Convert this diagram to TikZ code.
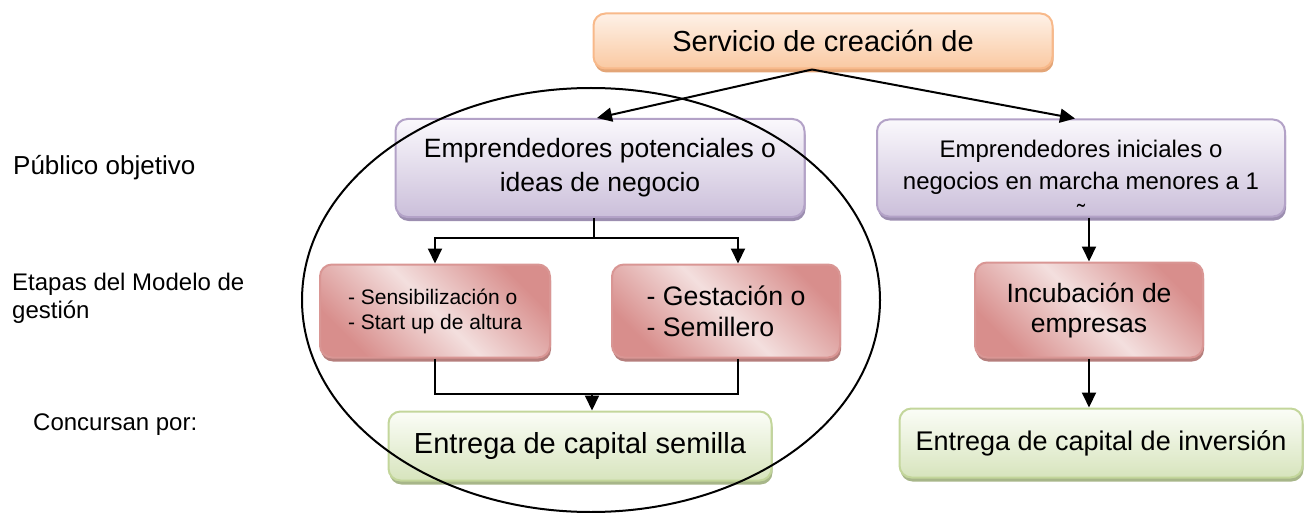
\documentclass[tikz,border=0pt]{standalone}
\usepackage{fontspec}
\setmainfont{Liberation Sans}
\usetikzlibrary{arrows.meta}
\usetikzlibrary{shadows}
\definecolor{orangeline}{HTML}{F8B98A}
\definecolor{orangetop}{HTML}{FEF1E7}
\definecolor{orangebot}{HTML}{FAC9A2}
\definecolor{orangeshadow}{HTML}{E3A577}
\definecolor{purpleline}{HTML}{B3A2C7}
\definecolor{purpletop}{HTML}{FAF8FC}
\definecolor{purplebot}{HTML}{CBBFDA}
\definecolor{purpleshadow}{HTML}{9C8EB0}
\definecolor{redline}{HTML}{D99694}
\definecolor{reddark}{HTML}{D88E8C}
\definecolor{redlight}{HTML}{F3DFDE}
\definecolor{redshadow}{HTML}{B57E7C}
\definecolor{greenline}{HTML}{C3D69B}
\definecolor{greentop}{HTML}{FBFDF7}
\definecolor{greenbot}{HTML}{D7E4BD}
\definecolor{greenshadow}{HTML}{A7B689}

\begin{document}
\begin{tikzpicture}[x=1pt,y=-1pt,
  fsize/.style 2 args={font=\fontsize{#1}{#2}\selectfont},
  box/.style={draw,line width=2pt,rounded corners=12pt,inner sep=0pt,align=center},
  orangebox/.style={box,draw=orangeline,top color=orangetop,bottom color=orangebot,
    drop shadow={shadow xshift=1pt,shadow yshift=-4pt,fill=orangeshadow,opacity=1}},
  purplebox/.style={box,draw=purpleline,top color=purpletop,bottom color=purplebot,
    drop shadow={shadow xshift=1pt,shadow yshift=-4pt,fill=purpleshadow,opacity=1}},
  redbox/.style={box,draw=redline,top color=reddark,bottom color=reddark,middle color=redlight,shading angle=-45,
    drop shadow={shadow xshift=1pt,shadow yshift=-4pt,fill=redshadow,opacity=1}},
  greenbox/.style={box,draw=greenline,top color=greentop,bottom color=greenbot,
    drop shadow={shadow xshift=1pt,shadow yshift=-4pt,fill=greenshadow,opacity=1}},
  link/.style={line width=2pt},
  arrowline/.style={link,-{Triangle[length=15pt,width=14pt]}}]
  \useasboundingbox (0,0) rectangle (1311,513);

  \node[orangebox,fsize={29}{35},minimum width=459pt,minimum height=55pt] (servicio) at (823,41) {Servicio de creación de};

  \node[purplebox,fsize={26.5}{34},minimum width=409pt,minimum height=98pt] (ideas) at (600,168) {Emprendedores potenciales o\\ideas de negocio};
  \node[purplebox,minimum width=408pt,minimum height=97pt] (iniciales) at (1081,168) {};
  \node[fsize={24}{32},align=center,inner sep=0pt] (iniciales text) at (1081,181) {Emprendedores iniciales o\\negocios en marcha menores a 1\\˜};

  \node[redbox,fsize={21}{25},align=left,minimum width=230pt,minimum height=93pt] (sens) at (435,311) {- Sensibilización o\\- Start up de altura};
  \node[redbox,fsize={26.7}{31},align=left,minimum width=228pt,minimum height=93pt] (gest) at (726,311) {- Gestación o\\- Semillero};
  \node[redbox,fsize={26.5}{30},minimum width=228pt,minimum height=95pt] (incub) at (1089,310) {Incubación de\\empresas};

  \node[greenbox,fsize={29}{35},minimum width=383pt,minimum height=69pt] (semilla) at (580,446) {Entrega de capital semilla};
  \node[greenbox,fsize={27}{33},minimum width=403pt,minimum height=69pt] (inversion) at (1101,443) {Entrega de capital de inversión};

  \node[fsize={26}{32},anchor=base west,inner sep=0pt] (publico) at (13,175) {Público objetivo};
  \node[fsize={24}{28},anchor=base west,inner sep=0pt,align=left] (etapas) at (12,290) {Etapas del Modelo de};
  \node[fsize={24}{28},anchor=base west,inner sep=0pt] (gestion) at (12,318) {gestión};
  \node[fsize={24}{28},anchor=base west,inner sep=0pt] (concursan) at (33,430) {Concursan por:};

  \draw[arrowline] ([xshift=-11pt]servicio.south) -- ([xshift=-3pt]ideas.north);
  \draw[arrowline] ([xshift=-11pt]servicio.south) -- ([xshift=-6pt]iniciales.north);

  \draw[link] ([xshift=-6pt]ideas.south) -- ++(0,20) coordinate (fork);
  \draw[arrowline] (fork) -| (sens.north);
  \draw[arrowline] (fork) -| ([xshift=12pt]gest.north);

  \coordinate (semilla top) at ([xshift=12pt]semilla.north);
  \draw[link] (sens.south) -- ++(0,35) coordinate (join) -| ([xshift=12pt]gest.south);
  \draw[arrowline] (join -| semilla top) -- (semilla top);

  \draw[arrowline] (iniciales.south -| incub) -- (incub.north);
  \draw[arrowline] (incub.south) -- (incub.south |- inversion.north);

  \draw[line width=2pt] (591,300) ellipse [x radius=289pt,y radius=212pt];
\end{tikzpicture}
\end{document}
